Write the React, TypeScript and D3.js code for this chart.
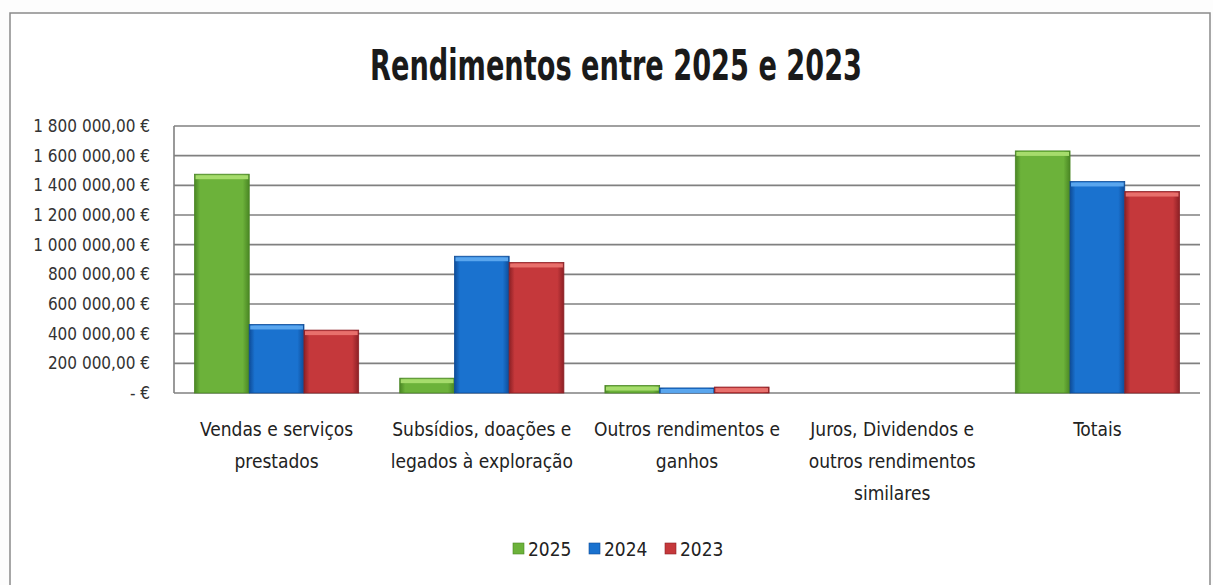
import * as d3 from 'd3'

const categories = [
  ['Vendas e serviços', 'prestados'],
  ['Subsídios, doações e', 'legados à exploração'],
  ['Outros rendimentos e', 'ganhos'],
  ['Juros, Dividendos e', 'outros rendimentos', 'similares'],
  ['Totais'],
]
const years = ['2025', '2024', '2023']
const values2025 = [1475000, 100000, 50000, 0, 1632000]
const values2024 = [462000, 922000, 34000, 0, 1426000]
const values2023 = [424000, 880000, 40000, 0, 1358000]
const yTicks = [0, 200000, 400000, 600000, 800000, 1000000, 1200000, 1400000, 1600000, 1800000]

const colors = [
  { base: '#6cb23a', light: '#a6dc6c', dark: '#4a8624' },
  { base: '#1a72cf', light: '#5aa6ee', dark: '#0e4c98' },
  { base: '#c5383b', light: '#e8706c', dark: '#8c2025' },
]

const font = "'Liberation Sans Narrow', 'DejaVu Sans Condensed', 'Open Sans', sans-serif"

function formatEuro(v: number): string {
  if (v === 0) return '-   €'
  const s = Math.round(v).toString().replace(/\B(?=(\d{3})+(?!\d))/g, ' ')
  return `${s},00 €`
}

export default function App() {
  const width = 1213
  const height = 585
  const margin = { top: 126, right: 13, bottom: 192, left: 174 }
  const series = [values2025, values2024, values2023]

  const x = d3
    .scaleBand<number>()
    .domain(categories.map((_, i) => i))
    .range([margin.left, width - margin.right])
  const gap = x.bandwidth() * 0.1
  const xs = d3
    .scaleBand<number>()
    .domain(years.map((_, i) => i))
    .range([gap, x.bandwidth() - gap])
  const y = d3
    .scaleLinear()
    .domain([0, 1800000])
    .range([height - margin.bottom, margin.top])

  return (
    <svg width={width} height={height} style={{ position: 'absolute', left: 0, top: 0, background: '#fdfdfd' }}>
      <defs>
        {colors.map((c, i) => (
          <linearGradient key={i} id={`bar${i}`} x1="0%" y1="0%" x2="100%" y2="0%">
            <stop offset="0%" stopColor={c.dark} />
            <stop offset="10%" stopColor={c.base} />
            <stop offset="88%" stopColor={c.base} />
            <stop offset="100%" stopColor={c.dark} />
          </linearGradient>
        ))}
      </defs>
      <rect x={10} y={13} width={1200} height={580} fill="#fff" stroke="#8a8a8a" strokeWidth={1.5} />

      <text
        x={616}
        y={80}
        textAnchor="middle"
        fontFamily={font}
        fontWeight="bold"
        fontSize={43}
        fill="#1a1a1a"
        textLength={492}
        lengthAdjust="spacingAndGlyphs"
      >
        Rendimentos entre 2025 e 2023
      </text>

      {yTicks.map((t) => (
        <g key={t}>
          <line x1={margin.left} x2={width - margin.right} y1={y(t)} y2={y(t)} stroke="#808080" strokeWidth={1.6} />
          <text x={150} y={y(t) + 6} textAnchor="end" fontFamily={font} fontSize={17} fill="#333">
            {formatEuro(t)}
          </text>
        </g>
      ))}
      <line x1={margin.left} x2={margin.left} y1={y(1800000)} y2={y(0)} stroke="#808080" strokeWidth={1.6} />

      {categories.map((_, ci) => (
        <g key={ci} transform={`translate(${x(ci)},0)`}>
          {series.map((vals, si) => {
            const v = vals[ci]
            if (v <= 0) return null
            const bx = xs(si) ?? 0
            const top = y(v)
            const h = y(0) - top
            return (
              <g key={si}>
                <rect x={bx} y={top} width={xs.bandwidth()} height={h} fill={`url(#bar${si})`} stroke={colors[si].dark} strokeWidth={0.8} />
                <rect x={bx + 1} y={top + 1} width={xs.bandwidth() - 2} height={Math.min(4, h - 1)} fill={colors[si].light} />
              </g>
            )
          })}
        </g>
      ))}

      {categories.map((lines, ci) => (
        <text key={ci} x={(x(ci) ?? 0) + x.bandwidth() / 2} y={436} textAnchor="middle" fontFamily={font} fontSize={19} fill="#222">
          {lines.map((l, li) => (
            <tspan key={li} x={(x(ci) ?? 0) + x.bandwidth() / 2} dy={li === 0 ? 0 : 32}>
              {l}
            </tspan>
          ))}
        </text>
      ))}

      {years.map((yr, i) => {
        const lx = 513 + i * 76
        return (
          <g key={yr}>
            <rect x={lx} y={543} width={11} height={11} fill={colors[i].base} stroke={colors[i].dark} strokeWidth={0.6} />
            <text x={lx + 15} y={556} fontFamily={font} fontSize={19} fill="#222">
              {yr}
            </text>
          </g>
        )
      })}
    </svg>
  )
}
